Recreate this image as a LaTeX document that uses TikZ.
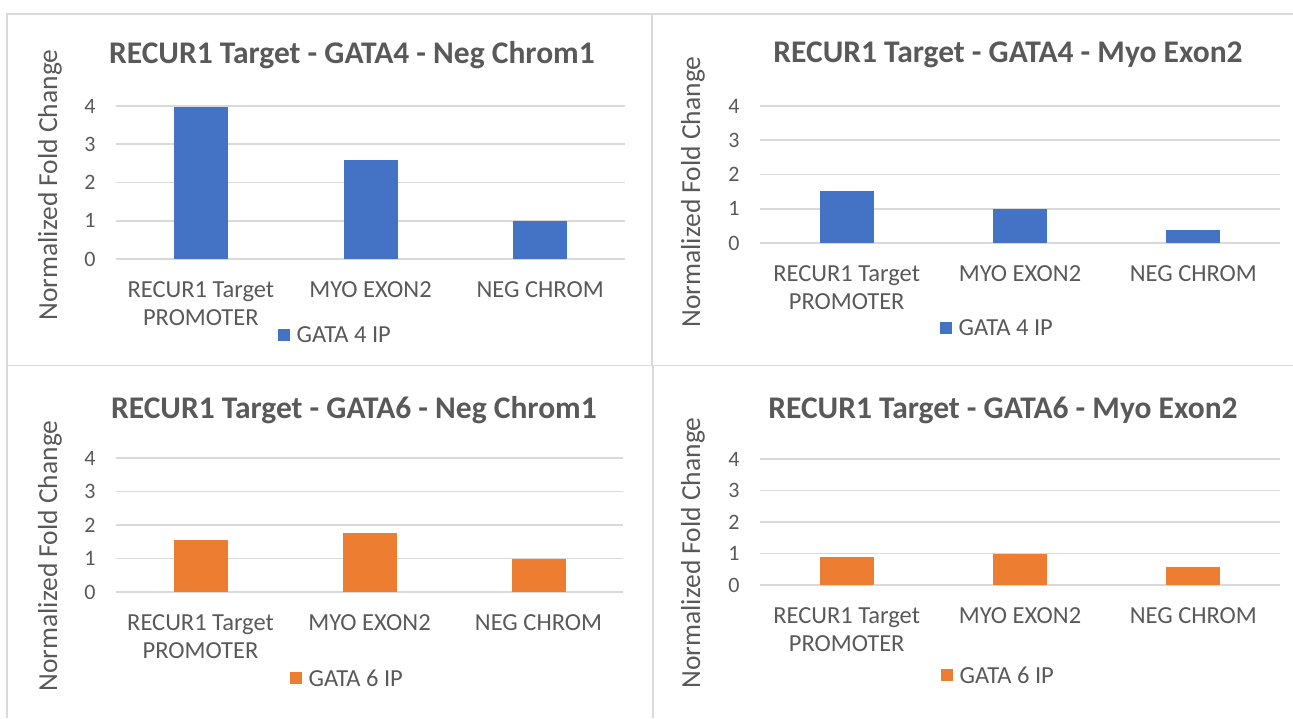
\documentclass[tikz,border=0pt]{standalone}
\usepackage{fontspec}
\setmainfont{Carlito}
\usetikzlibrary{positioning}
\definecolor{gatafourfill}{HTML}{4472C4}
\definecolor{gatasixfill}{HTML}{ED7D31}
\definecolor{gridgray}{HTML}{D9D9D9}
\definecolor{framegray}{HTML}{DADADA}
\definecolor{textgray}{HTML}{595959}
\tikzset{
    panel/.style={draw=framegray, line width=1.8pt},
    gridline/.style={draw=gridgray, line width=1.6pt},
    barfill/.style={fill=#1, draw=none},
    charttitle/.style={font=\fontsize{31.5}{36}\selectfont\bfseries, text=textgray},
    ticklabel/.style={font=\fontsize{22}{26}\selectfont, text=textgray},
    catlabel/.style={font=\fontsize{24.5}{28}\selectfont, text=textgray, align=center, anchor=north},
    axislabel/.style={font=\fontsize{27.5}{32}\selectfont, text=textgray, rotate=90},
    legendkey/.style={fill=#1, minimum size=12.5pt, inner sep=0pt},
    legendtext/.style={font=\fontsize{24.5}{28}\selectfont, text=textgray, inner sep=0pt},
}
% #1 name, #2 grid left, #3 grid right, #4 zero line, #5 unit, #6 colour, #7-#9 values
\newcommand\foldchart[9]{%
  \foreach \k in {0,...,4}
    \draw[gridline] (#2,#4-\k*#5) -- (#3,#4-\k*#5);
  \foreach \k in {0,...,4}
    \node[ticklabel] (#1-tick\k) at (#2-26,#4-\k*#5) {\k};
  \foreach \v [count=\i] in {#7,#8,#9}
    \fill[barfill=#6] ({#2+(2*\i-1)*(#3-#2)/6-27},#4) rectangle ({#2+(2*\i-1)*(#3-#2)/6+27},#4-\v*#5);
  \node[catlabel] (#1-cat1) at ({#2+(#3-#2)/6},#4+19) {RECUR1 Target\\PROMOTER};
  \node[catlabel] (#1-cat2) at ({#2+(#3-#2)/2},#4+19) {MYO EXON2};
  \node[catlabel] (#1-cat3) at ({#2+5*(#3-#2)/6},#4+19) {NEG CHROM};
}

\begin{document}
\begin{tikzpicture}[x=1pt, y=-1pt]
\useasboundingbox (0,0) rectangle (1293,718);

% panel frames
\draw[panel] (7,718) -- (7,14) -- (1293,14);
\draw[panel] (652,14) -- (652,365);
\draw[panel] (7,365.5) -- (1293,365.5);
\draw[panel] (653,365.5) -- (653,718);

% ── GATA4 / Neg Chrom1 ─────────────────────────
\node[charttitle] (t1) at (352,55) {RECUR1 Target - GATA4 - Neg Chrom1};
\node[axislabel] (y1) at (50,185) {Normalized Fold Change};
\foldchart{c1}{116}{625}{259}{38.25}{gatafourfill}{3.97}{2.58}{1.0}
\node[legendkey=gatafourfill] (k1) at (284,335) {};
\node[legendtext, right=6pt of k1] (l1) {GATA 4 IP};

% ── GATA4 / Myo Exon2 ──────────────────────────
\node[charttitle] (t2) at (1008,55) {RECUR1 Target - GATA4 - Myo Exon2};
\node[axislabel] (y2) at (693,192) {Normalized Fold Change};
\foldchart{c2}{760}{1280}{243}{34.25}{gatafourfill}{1.52}{1.0}{0.38}
\node[legendkey=gatafourfill] (k2) at (946,328) {};
\node[legendtext, right=6pt of k2] (l2) {GATA 4 IP};

% ── GATA6 / Neg Chrom1 ─────────────────────────
\node[charttitle] (t3) at (354,410) {RECUR1 Target - GATA6 - Neg Chrom1};
\node[axislabel] (y3) at (50,556) {Normalized Fold Change};
\foldchart{c3}{116}{623}{592}{33.5}{gatasixfill}{1.55}{1.76}{1.0}
\node[legendkey=gatasixfill] (k3) at (296,678) {};
\node[legendtext, right=6pt of k3] (l3) {GATA 6 IP};

% ── GATA6 / Myo Exon2 ──────────────────────────
\node[charttitle] (t4) at (1003,410) {RECUR1 Target - GATA6 - Myo Exon2};
\node[axislabel] (y4) at (693,553) {Normalized Fold Change};
\foldchart{c4}{760}{1280}{585}{31.5}{gatasixfill}{0.89}{1.0}{0.58}
\node[legendkey=gatasixfill] (k4) at (947,675) {};
\node[legendtext, right=6pt of k4] (l4) {GATA 6 IP};

\end{tikzpicture}
\end{document}
